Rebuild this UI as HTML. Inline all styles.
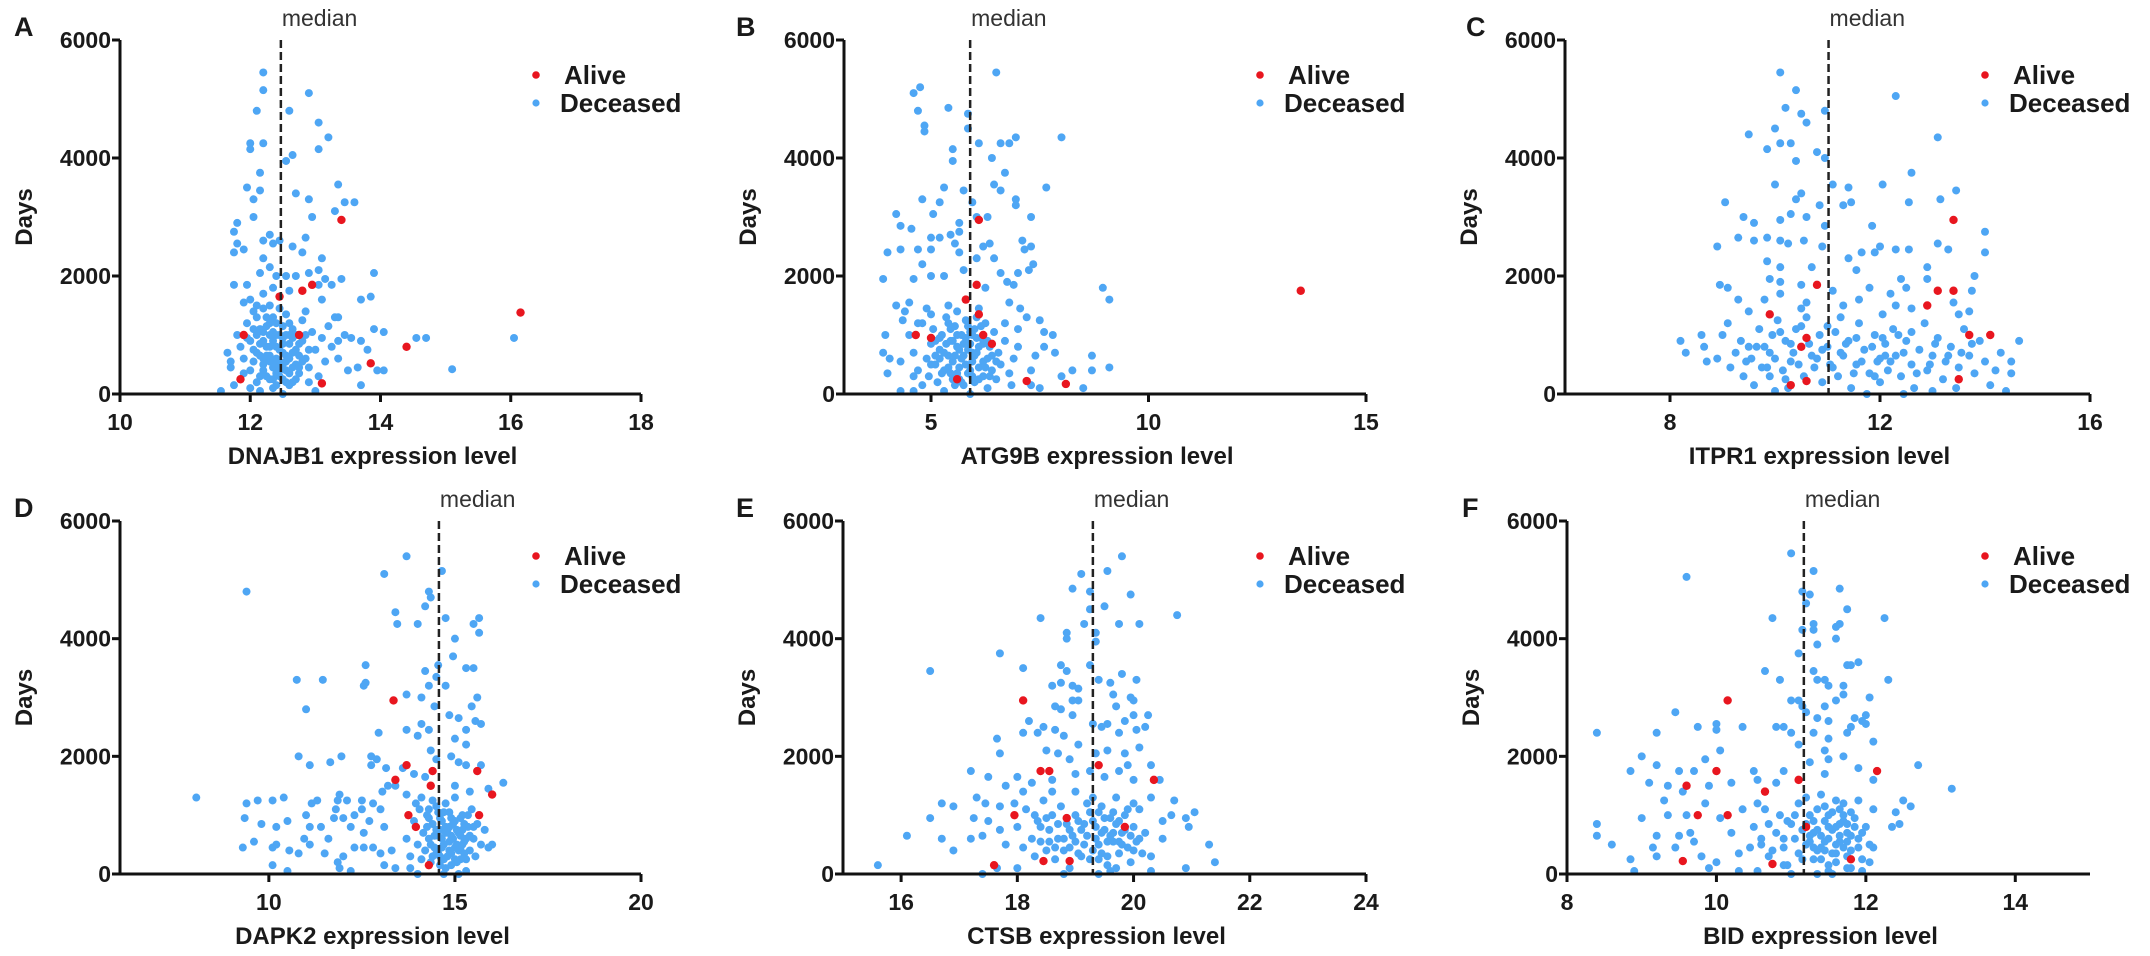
<!DOCTYPE html>
<html><head><meta charset="utf-8">
<style>
html,body{margin:0;padding:0;background:#fff;}
svg{display:block;}
text{font-family:"Liberation Sans",Arial,sans-serif;fill:#1a1a1a;}
.tick{font-weight:bold;font-size:23px;}
.title{font-weight:bold;font-size:24px;}
.leg{font-weight:bold;font-size:26px;}
.med{font-size:23px;fill:#333;}
.plab{font-weight:bold;font-size:27px;}
</style></head>
<body>
<svg id="fig" width="2150" height="956" viewBox="0 0 2150 956" xmlns="http://www.w3.org/2000/svg"></svg>
<script>
// ---- data (expression level, days) ----
const yTicks=[0,2000,4000,6000];
const genesA="DNAJB1", genesB="ATG9B", genesC="ITPR1", genesD="DAPK2", genesE="CTSB", genesF="BID";
const medianA=12.47, medianB=5.9, medianC=11.02, medianD=14.57, medianE=19.3, medianF=11.17;
const ticksA=[10,12,14,16,18], ticksB=[5,10,15], ticksC=[8,12,16], ticksD=[10,15,20], ticksE=[16,18,20,22,24], ticksF=[8,10,12,14];
const domainA=[10,18], domainB=[3,15], domainC=[6,16], domainD=[6,20], domainE=[15,24], domainF=[8,15];

const deadA=[[12.2,5450],[12.2,5150],[12.9,5100],[12.1,4800],[12.6,4800],[13.05,4600],[13.2,4350],[12.0,4250],[12.2,4250],[12.0,4150],[13.05,4150],[12.65,4050],[12.55,3950],[12.15,3750],[11.95,3500],[12.15,3450],[12.05,3300],[12.9,3300],[12.7,3400],[13.35,3550],[13.45,3250],[13.6,3250],[13.3,3100],[12.95,3000],[12.05,3000],[11.8,2900],[11.75,2750],[11.8,2550],[11.75,2400],[11.9,2450],[12.2,2600],[12.3,2700],[12.35,2550],[12.45,2600],[12.65,2500],[12.85,2650],[12.8,2400],[12.2,2300],[13.1,2300],[12.15,2050],[12.3,2150],[12.4,2000],[12.55,2000],[12.7,2000],[12.9,2050],[13.05,2100],[13.15,1950],[13.25,1850],[13.4,1950],[13.9,2050],[11.75,1850],[11.95,1850],[12.35,1800],[12.6,1750],[13.05,1850],[13.1,1600],[13.7,1600],[13.85,1650],[11.9,1550],[12.1,1500],[13.35,1300],[13.3,1300],[13.45,1000],[13.55,950],[13.7,900],[13.9,1100],[14.05,1050],[13.35,900],[14.55,950],[14.7,950],[13.8,750],[13.35,600],[13.5,400],[13.65,450],[13.95,400],[14.05,400],[13.7,150],[15.1,420],[16.05,950],[11.55,50],[11.65,700],[11.7,550],[12.0,100],
[11.8,1000],[11.85,800],[11.9,600],[11.95,1200],[12.0,400],[12.0,900],[12.05,1400],[12.1,700],[12.1,200],[12.15,1100],[12.2,500],[12.2,900],[12.25,300],[12.25,1300],[12.3,650],[12.3,1000],[12.35,100],[12.35,450],[12.4,800],[12.4,1200],[12.45,550],[12.45,300],[12.5,950],[12.5,700],[12.55,400],[12.55,1350],[12.6,600],[12.6,850],[12.65,200],[12.65,1100],[12.7,500],[12.7,750],[12.75,350],[12.8,900],[12.8,1250],[12.85,600],[12.9,450],[12.95,1050],[13.0,750],[13.05,300],[13.1,950],[13.15,550],[13.2,1150],[12.15,50],[12.3,1500],[12.45,1000],[12.6,150],[12.25,800],[12.4,350],[12.55,1000],[12.35,1050],[12.2,600],[12.5,250],[12.7,1000],[12.05,750],[11.9,350],[12.85,1400],[13.25,800],[12.0,1600],[12.65,450],[12.1,1000],[12.4,600],[12.3,250],[12.75,650],[12.2,1450],[11.7,450],[11.75,150],[12.9,200],[13.0,50],[12.5,0],[12.2,1700]];
const coreA=[[12.15,850],[12.3,550],[12.45,750],[12.6,350],[12.35,900],[12.5,500],[12.25,1150],[12.65,950],[12.4,150],[12.55,650],[12.2,400],[12.7,250],[12.05,550],[12.8,550],[12.35,1300],[12.5,1150],[12.15,300],[12.6,1200],[12.45,1450],[12.3,800],[12.75,850],[11.95,950],[12.9,750],[12.4,1000],[12.55,200],[12.1,1300],[12.65,700],[12.25,650],[12.45,400],[12.6,1000],[12.35,250],[12.5,850],[12.2,1050],[12.75,450],[12.05,1100],[12.4,500],[12.3,1200],[12.85,1000],[12.55,550],[12.15,650]];
const aliveA=[[12.45,1650],[12.95,1850],[12.8,1750],[13.4,2950],[11.9,1000],[12.75,1000],[11.85,250],[13.1,180],[13.85,520],[14.4,800],[16.15,1380]];

const deadB=[[6.5,5450],[4.75,5200],[4.6,5100],[5.4,4850],[5.85,4750],[4.7,4800],[4.85,4550],[4.85,4450],[5.85,4500],[6.1,4250],[6.6,4250],[6.8,4250],[6.95,4350],[8.0,4350],[5.5,4150],[5.5,3950],[6.4,4000],[6.7,3750],[6.45,3550],[6.6,3450],[7.65,3500],[5.3,3500],[5.2,3250],[5.05,3050],[4.2,3050],[4.3,2850],[4.55,2800],[4.8,3300],[5.75,3450],[5.95,3250],[6.05,3000],[6.3,3000],[6.95,3300],[6.95,3200],[7.3,3000],[5.0,2650],[5.0,2450],[5.2,2650],[5.45,2700],[5.55,2550],[5.65,2900],[5.65,2750],[6.2,2500],[6.35,2550],[6.05,2300],[6.45,2300],[7.1,2600],[7.15,2450],[7.3,2500],[7.35,2200],[7.0,2050],[7.25,2100],[4.0,2400],[4.3,2450],[4.7,2450],[3.9,1950],[4.6,1950],[4.8,2200],[5.0,2000],[5.3,2000],[5.75,2100],[5.65,2400],[6.6,2050],[6.25,1800],[6.75,1900],[6.9,1850],[8.95,1800],[9.1,1600],[8.7,650],[8.7,400],[9.1,450],[8.25,400],[8.5,100],[4.2,1500],[4.35,1250],[4.5,1550],[4.4,1400],[3.95,1000],[3.9,700],[4.05,600],[4.0,350],[4.3,550],[4.3,50],[4.6,50],[7.6,1050],[7.8,1000],[7.85,700],[7.6,800],[7.4,650],[7.2,1300],[7.5,1250],[7.0,1100],[7.05,1450],[6.8,1550],[7.3,400],[7.5,100],[7.3,150],[8.0,300],
[4.5,1000],[4.6,700],[4.7,400],[4.8,1200],[4.9,600],[4.95,300],[5.0,850],[5.05,1100],[5.1,500],[5.15,200],[5.2,750],[5.25,1000],[5.3,400],[5.35,1300],[5.4,650],[5.45,900],[5.5,250],[5.5,550],[5.55,1150],[5.6,800],[5.65,450],[5.7,1000],[5.75,150],[5.75,650],[5.8,1250],[5.85,350],[5.9,850],[5.95,550],[6.0,1100],[6.0,200],[6.05,700],[6.1,450],[6.15,950],[6.2,300],[6.25,1200],[6.3,600],[6.35,800],[6.4,400],[6.45,1050],[6.5,250],[6.55,700],[6.6,500],[6.7,900],[6.8,350],[6.9,600],[7.0,800],[5.3,50],[5.9,0],[6.3,100],[4.8,150],[5.6,1400],[6.1,1450],[5.4,1500],[5.0,1350],[4.7,1200],[6.7,1200],[5.2,600],[5.85,750],[6.2,850],[5.65,250],[6.5,550],[5.45,350],[6.05,1300],[5.95,1000],[5.1,900],[4.9,1450],[4.6,300],[6.85,150]];
const coreB=[[5.3,700],[5.5,900],[5.7,600],[5.9,1050],[6.1,800],[5.4,450],[5.6,350],[5.8,500],[6.0,650],[6.2,550],[5.2,950],[5.75,850],[5.95,300],[6.15,1150],[5.35,850],[5.55,650],[5.85,1150],[6.05,950],[5.45,1100],[5.65,750],[6.3,900],[5.1,650],[5.9,400],[6.4,650],[5.25,350],[5.8,950],[6.1,250],[5.6,1000],[5.0,500],[6.35,300],[5.7,200],[5.95,700],[6.25,450],[5.4,1200],[5.55,150]];
const aliveB=[[6.1,2950],[6.05,1850],[5.8,1600],[6.1,1350],[4.65,1000],[5.0,950],[6.2,1000],[7.2,220],[8.1,170],[13.5,1750],[5.6,250],[6.4,850]];

const deadC=[[10.1,5450],[10.4,5150],[12.3,5050],[10.2,4850],[10.5,4750],[10.6,4600],[10.95,4800],[10.0,4500],[9.5,4400],[13.1,4350],[10.1,4250],[10.3,4250],[10.8,4100],[9.85,4150],[10.95,4000],[10.4,3950],[12.6,3750],[10.0,3550],[10.5,3400],[11.1,3550],[11.4,3500],[12.05,3550],[13.45,3450],[13.15,3300],[12.55,3250],[11.3,3200],[11.45,3250],[10.4,3300],[10.85,3200],[9.05,3250],[10.3,3050],[10.6,3000],[9.4,3000],[9.6,2900],[10.1,2950],[10.95,2850],[11.85,2850],[14.0,2750],[9.3,2650],[9.6,2600],[9.85,2650],[10.1,2600],[10.25,2550],[10.55,2600],[10.9,2500],[8.9,2500],[11.65,2400],[12.0,2500],[12.3,2450],[12.55,2450],[13.1,2550],[13.3,2450],[14.0,2400],[11.4,2300],[11.9,2400],[9.85,2250],[10.1,2150],[10.7,2150],[11.55,2100],[12.9,2150],[12.4,1950],[12.9,1950],[13.8,2000],[8.95,1850],[9.1,1800],[9.9,1950],[10.1,1900],[10.5,1850],[11.1,1750],[11.8,1800],[12.2,1700],[12.5,1800],[13.75,1750],[9.3,1600],[9.8,1600],[10.1,1700],[10.6,1550],[11.3,1500],[11.6,1600],[12.3,1500],[12.6,1450],[13.4,1550],[13.5,1350],[13.7,1400],
[8.2,900],[8.3,700],[8.6,1000],[8.65,800],[8.7,550],[8.9,600],[9.0,1000],[9.1,1200],[9.15,450],[9.25,700],[9.35,900],[9.4,300],[9.5,1400],[9.55,600],[9.6,150],[9.7,1100],[9.75,450],[9.8,800],[9.9,300],[9.95,1000],[10.0,600],[10.05,1250],[10.15,400],[10.2,900],[10.25,100],[10.35,700],[10.4,1100],[10.45,500],[10.55,300],[10.6,1300],[10.7,650],[10.75,450],[10.85,1000],[10.9,200],[11.0,800],[11.05,500],[11.15,1050],[11.2,300],[11.3,650],[11.4,900],[11.45,100],[11.55,500],[11.6,1200],[11.7,750],[11.8,350],[11.9,1000],[11.95,550],[12.0,200],[12.1,850],[12.15,400],[12.25,1100],[12.3,650],[12.4,300],[12.5,900],[12.6,500],[12.65,100],[12.75,750],[12.85,1200],[12.9,400],[13.0,650],[13.1,950],[13.2,250],[13.25,550],[13.35,800],[13.45,100],[13.5,450],[13.6,1100],[13.7,650],[13.8,350],[13.9,900],[14.0,550],[14.1,150],[14.2,400],[14.3,700],[14.4,50],[14.5,550],[14.65,900],[14.5,350],[11.25,1300],[12.05,1350],[10.0,50],[9.5,800],[11.75,0],[12.45,0],[10.5,1450],[13.0,50],[9.9,700],[12.0,600],[11.5,350],[10.3,850]];
const coreC=[[9.65,800],[10.1,1050],[10.3,550],[10.65,850],[10.8,600],[11.1,450],[11.35,850],[11.65,550],[11.85,800],[12.05,950],[12.2,550],[12.45,700],[12.7,350],[13.05,850],[13.3,650],[9.85,450],[10.5,1150],[11.25,700],[11.9,300],[12.35,1000],[12.95,500],[13.55,700],[10.2,250],[11.0,1150],[12.6,1050],[9.45,550],[13.75,850],[10.9,750],[12.1,650],[11.55,950]];
const aliveC=[[9.9,1350],[10.8,1850],[10.5,800],[10.6,950],[10.3,150],[10.6,220],[12.9,1500],[13.1,1750],[13.4,1750],[13.4,2950],[13.7,1000],[14.1,1000],[13.5,250]];

const deadD=[[13.7,5400],[13.1,5100],[14.65,5150],[14.3,4800],[14.35,4700],[9.4,4800],[14.2,4550],[13.4,4450],[13.45,4250],[14.0,4250],[14.75,4350],[15.5,4250],[15.65,4350],[15.65,4100],[15.0,4000],[14.95,3700],[15.3,3500],[15.5,3500],[14.55,3550],[14.2,3450],[14.5,3350],[14.3,3200],[14.75,3200],[12.6,3550],[12.6,3250],[12.55,3200],[10.75,3300],[11.45,3300],[11.0,2800],[13.7,3050],[14.1,3000],[14.45,2850],[15.45,2850],[15.6,3000],[14.85,2700],[15.1,2650],[15.55,2600],[15.7,2550],[14.1,2550],[14.3,2450],[14.0,2350],[15.3,2450],[15.0,2300],[14.9,2000],[15.3,2200],[13.7,2450],[12.95,2400],[14.35,2100],[14.5,1950],[15.1,1900],[15.3,1850],[15.7,1850],[10.8,2000],[11.65,1900],[11.95,2000],[11.1,1850],[12.75,2000],[12.9,1950],[12.75,1850],[13.15,1800],[13.6,1800],[13.9,1700],[14.2,1650],[16.3,1550],[15.9,1450],[15.4,1400],[15.0,1500],[13.2,1500],[13.4,1500],[13.05,1400],[13.7,1350],[14.1,1300],[12.5,1250],[12.1,1250],[11.9,1350],[11.85,1250],[11.3,1250],[11.15,1200],[11.8,1100],[12.0,950],[11.75,950],[12.3,1000],[12.5,1100],[12.8,1200],[13.0,1100],[9.4,1200],[9.7,1250],[10.1,1250],[10.4,1300],[8.05,1300],[9.35,950],[9.8,850],[10.2,800],[10.5,900],[11.0,1000],[11.1,800],[11.4,800],[11.6,600],[12.2,800],[12.55,700],[12.7,900],[13.1,800],[9.3,450],[9.6,550],[10.1,450],[10.2,500],[10.55,400],[10.8,350],[10.95,600],[11.1,500],[11.5,350],[12.0,300],[12.3,450],[12.55,450],[12.8,450],[13.0,350],[13.3,400],[10.1,150],[10.5,50],[11.85,200],[11.9,100],[12.2,50],[13.1,150],[13.4,100],[13.8,100],[14.0,0],
[13.7,600],[13.8,300],[13.9,900],[14.0,500],[14.05,1100],[14.1,250],[14.15,700],[14.2,400],[14.25,1000],[14.3,600],[14.35,200],[14.4,850],[14.45,450],[14.5,1150],[14.55,650],[14.6,300],[14.65,900],[14.7,500],[14.75,100],[14.8,750],[14.85,1050],[14.9,350],[14.95,600],[15.0,900],[15.05,200],[15.1,700],[15.15,450],[15.2,1000],[15.25,550],[15.3,250],[15.35,800],[15.4,400],[15.45,1100],[15.5,600],[15.55,300],[15.6,850],[15.7,500],[15.8,750],[15.9,450],[16.0,500],[14.4,1250],[15.0,1300],[14.7,0],[15.3,50],[15.1,0],[14.6,750],[14.85,550],[14.3,950],[15.25,850],[14.9,150],[14.5,350],[15.15,650],[14.75,1200],[13.95,1200],[14.65,450]];
const coreD=[[14.45,650],[14.6,950],[14.75,800],[14.9,650],[15.05,500],[15.2,750],[14.35,500],[14.55,350],[14.7,1050],[14.85,400],[15.0,250],[15.15,950],[15.3,600],[14.25,800],[14.5,750],[14.65,600],[14.8,300],[14.95,850],[15.1,400],[15.25,350],[15.4,650],[14.4,300],[14.6,150],[14.75,700],[14.9,950],[15.05,750],[15.2,500],[14.3,1100],[15.35,1000],[15.5,800],[14.55,1050],[14.7,250],[15.0,450],[15.15,250],[14.85,800]];
const aliveD=[[13.35,2950],[13.7,1850],[14.4,1750],[15.6,1750],[13.4,1600],[14.35,1500],[16.0,1350],[13.75,1000],[15.65,1000],[13.95,800],[14.3,150]];

const deadE=[[19.8,5400],[19.55,5150],[19.1,5100],[18.95,4850],[19.25,4800],[19.95,4750],[19.5,4550],[19.25,4500],[18.4,4350],[19.15,4250],[19.75,4250],[20.1,4250],[20.75,4400],[18.85,4100],[18.85,4000],[19.35,4100],[19.35,3950],[17.7,3750],[18.1,3500],[16.5,3450],[18.75,3550],[18.85,3450],[19.25,3550],[19.8,3400],[19.4,3300],[19.6,3250],[20.05,3300],[18.6,3200],[18.75,3250],[18.95,3200],[19.05,3150],[19.65,3050],[19.95,3000],[20.0,2950],[18.95,2950],[19.05,2950],[18.65,2850],[18.75,2800],[19.7,2850],[18.95,2700],[18.2,2600],[18.45,2500],[18.65,2450],[19.3,2550],[19.45,2500],[19.55,2550],[19.85,2600],[20.0,2700],[20.25,2700],[18.1,2400],[18.35,2400],[18.8,2350],[19.75,2400],[20.05,2450],[20.2,2500],[17.65,2300],[17.7,2050],[18.5,2100],[18.7,2050],[19.05,2200],[19.35,2050],[19.55,2100],[19.85,2050],[20.1,2150],[18.9,1950],[19.9,1850],[20.3,1850],[17.2,1750],[17.5,1650],[17.8,1500],[18.0,1650],[18.25,1550],[18.6,1600],[19.0,1700],[19.25,1750],[19.5,1650],[19.75,1750],[20.0,1600],[20.45,1600],[17.3,1300],[17.45,1200],[16.7,1200],[16.9,1150],[16.5,950],[16.1,650],[16.7,600],[16.9,400],[17.2,600],[17.4,650],[17.25,950],[17.5,900],[17.7,750],[17.8,500],[17.95,1200],[18.1,1400],[17.7,1150],[17.4,0],[17.65,100],[18.0,100],[20.7,1250],[21.05,1050],[20.9,950],[20.95,800],[21.3,500],[21.4,200],[20.9,100],[20.5,600],[20.3,300],[20.3,1300],[20.5,900],[20.65,1000],[20.3,50],[15.6,150],
[18.0,800],[18.1,450],[18.15,1100],[18.25,600],[18.3,300],[18.35,900],[18.4,550],[18.45,1250],[18.5,400],[18.55,750],[18.6,1000],[18.65,250],[18.7,600],[18.75,1150],[18.8,400],[18.85,850],[18.9,100],[18.95,650],[19.0,1000],[19.05,350],[19.1,750],[19.15,500],[19.2,1200],[19.25,250],[19.3,900],[19.35,600],[19.4,1050],[19.45,350],[19.5,750],[19.55,150],[19.6,950],[19.65,550],[19.7,1300],[19.75,350],[19.8,700],[19.85,1000],[19.9,450],[19.95,200],[20.0,800],[20.05,550],[20.1,1100],[20.15,350],[20.2,700],[19.4,0],[19.6,50],[18.8,0],[19.0,1400],[19.3,1300],[18.6,1400],[19.55,550],[19.15,850],[18.9,450],[19.75,900],[19.45,700],[20.0,1200],[18.3,1000],[19.7,100]];
const coreE=[[19.35,800],[19.5,950],[19.65,700],[19.8,500],[19.95,650],[19.4,500],[19.55,300],[19.7,850],[19.85,750],[20.0,400],[19.2,650],[19.05,900],[18.9,750],[18.7,850],[18.55,550],[18.4,800],[19.3,400],[19.6,650],[19.45,1150],[19.9,1100],[18.8,600],[19.1,300],[19.75,550],[18.5,950],[19.25,1050],[20.1,600],[18.65,450],[19.4,250],[19.0,550],[19.65,1050]];
const aliveE=[[18.1,2950],[18.4,1750],[18.55,1750],[19.4,1850],[20.35,1600],[17.95,1000],[18.85,950],[19.85,800],[17.6,150],[18.45,220],[18.9,220]];

const deadF=[[11.0,5450],[9.6,5050],[11.3,5150],[11.15,4800],[11.65,4850],[11.25,4750],[11.2,4600],[11.75,4500],[10.75,4350],[12.25,4350],[11.15,4150],[11.3,4250],[11.3,4150],[11.35,3900],[11.65,4250],[11.6,4200],[11.6,4000],[11.1,3750],[10.65,3450],[10.85,3300],[11.3,3450],[11.35,3300],[11.45,3300],[11.5,3200],[11.7,3200],[11.75,3550],[11.8,3550],[11.9,3600],[12.3,3300],[11.7,3050],[11.6,2950],[11.45,2850],[11.15,2850],[11.0,2950],[11.1,2950],[12.05,3000],[12.0,2700],[11.95,2600],[11.85,2650],[11.8,2500],[11.5,2600],[11.35,2650],[11.2,2750],[9.45,2750],[9.75,2500],[10.35,2500],[10.8,2500],[10.9,2500],[10.0,2550],[10.0,2450],[11.0,2400],[11.3,2400],[11.5,2300],[11.75,2400],[12.0,2550],[8.4,2400],[9.2,2400],[10.05,2100],[11.1,2200],[11.45,2100],[11.7,2000],[12.1,2250],[9.0,2000],[9.85,1950],[11.25,1900],[11.5,1950],[11.9,1800],[12.7,1850],[8.85,1750],[9.2,1850],[9.5,1750],[9.7,1750],[10.5,1750],[10.9,1750],[11.45,1700],[12.1,1600],[13.15,1450],[9.1,1550],[9.35,1500],[9.55,1400],[9.9,1500],[10.2,1550],[10.55,1600],[10.8,1550],[12.5,1250],[12.4,1050],[12.45,850],[12.35,800],[12.6,1150],[8.4,850],[8.4,650],[8.6,500],[8.85,250],[8.9,50],[9.0,950],[9.15,450],[9.2,300],[9.35,1000],[9.5,650],[9.8,300],[9.9,100],[10.0,200],[10.2,700],[10.3,50],[10.55,50],[10.75,400],[10.9,150],[11.5,50],[11.75,100],[11.95,50],[12.05,200],[12.1,450],[9.3,1250],[9.6,1000],[9.85,1200],[10.05,950],[10.35,1100],[10.55,1200],[10.7,850],[10.95,900],[10.45,450],[10.6,600],[10.3,350],[9.65,700],[9.45,450],[9.2,650],[9.7,550],
[10.5,800],[10.6,500],[10.65,1100],[10.7,300],[10.8,700],[10.85,1000],[10.9,450],[10.95,150],[11.0,850],[11.05,600],[11.1,1200],[11.1,350],[11.15,750],[11.2,500],[11.25,1000],[11.3,250],[11.3,700],[11.35,1100],[11.4,450],[11.45,900],[11.5,150],[11.5,600],[11.55,1050],[11.6,350],[11.6,800],[11.65,550],[11.7,1200],[11.75,700],[11.8,400],[11.85,950],[11.9,600],[11.95,250],[12.0,800],[12.05,500],[12.1,1100],[11.35,0],[11.55,0],[11.2,1300],[11.4,1350],[11.7,1000],[11.8,100],[11.0,0],[11.25,650],[11.45,400],[11.65,850],[11.9,1250],[11.15,250],[11.75,550]];
const coreF=[[11.3,900],[11.4,650],[11.5,1000],[11.55,750],[11.6,500],[11.7,900],[11.8,650],[11.35,400],[11.45,1150],[11.65,1100],[11.75,300],[11.85,800],[11.25,550],[11.5,800],[11.6,1250],[11.7,450],[11.4,250],[11.55,350],[11.8,1050],[11.95,700],[11.2,850],[11.35,750],[11.65,650],[11.9,450],[11.05,1000],[11.45,550],[11.75,850],[10.9,600],[11.6,200],[11.3,450]];
const aliveF=[[10.15,2950],[10.0,1750],[11.1,1600],[12.15,1750],[9.75,1000],[10.15,1000],[11.2,800],[9.55,220],[10.75,170],[11.8,250],[10.65,1400],[9.6,1500]];

// ---- layout (pixels) ----
const panels=[
 {id:"a",letter:"A",gene:genesA,med:medianA,ticks:ticksA,dom:domainA,dead:deadA.concat(coreA),alive:aliveA,x0:120,x1:641,yT:40,yB:394,letX:14,legX:536},
 {id:"b",letter:"B",gene:genesB,med:medianB,ticks:ticksB,dom:domainB,dead:deadB.concat(coreB),alive:aliveB,x0:844,x1:1366,yT:40,yB:394,letX:736,legX:1260},
 {id:"c",letter:"C",gene:genesC,med:medianC,ticks:ticksC,dom:domainC,dead:deadC.concat(coreC),alive:aliveC,x0:1565,x1:2090,yT:40,yB:394,letX:1466,legX:1985},
 {id:"d",letter:"D",gene:genesD,med:medianD,ticks:ticksD,dom:domainD,dead:deadD.concat(coreD),alive:aliveD,x0:120,x1:641,yT:521,yB:874,letX:14,legX:536},
 {id:"e",letter:"E",gene:genesE,med:medianE,ticks:ticksE,dom:domainE,dead:deadE.concat(coreE),alive:aliveE,x0:843,x1:1366,yT:521,yB:874,letX:736,legX:1260},
 {id:"f",letter:"F",gene:genesF,med:medianF,ticks:ticksF,dom:domainF,dead:deadF.concat(coreF),alive:aliveF,x0:1567,x1:2090,yT:521,yB:874,letX:1462,legX:1985}
];
const NS="http://www.w3.org/2000/svg";
const svg=document.getElementById("fig");
function mk(tag,attrs,parent,txt){const e=document.createElementNS(NS,tag);for(const k in attrs)e.setAttribute(k,attrs[k]);if(txt!==undefined)e.textContent=txt;parent.appendChild(e);return e;}

panels.forEach(p=>{
  const g=mk("g",{},svg);
  
  
  const sx=v=>p.x0+(v-p.dom[0])/(p.dom[1]-p.dom[0])*(p.x1-p.x0);
  const sy=v=>p.yB-(v/6000)*(p.yB-p.yT);
  const L=mk("text",{x:p.letX,y:p.yT-4,class:"plab"},g,p.letter);
  
  
  const gd=mk("g",{fill:"#4ea6f4"},g);
  
  
  p.dead.forEach(d=>{
    const c=mk("circle",{cx:sx(d[0]),cy:sy(d[1]),r:4},gd);
    
    
  });
  const ga=mk("g",{fill:"#e8161f"},g);
  
  
  p.alive.forEach(d=>{
    const c=mk("circle",{cx:sx(d[0]),cy:sy(d[1]),r:4.2},ga);
    
    
  });
  const mx=sx(p.med);
  const ml=mk("line",{x1:mx,x2:mx,y1:p.yT,y2:p.yB,stroke:"#222","stroke-width":2.5,"stroke-dasharray":"8,4"},g);
  
  
  const mt=mk("text",{x:mx+1,y:p.yT-14,class:"med"},g,"median");
  
  
  const ax=mk("path",{d:`M${p.x0},${p.yT} V${p.yB} H${p.x1}`,fill:"none",stroke:"#111","stroke-width":3},g);
  
  
  yTicks.forEach(t=>{
    const y=sy(t);
    const tl=mk("line",{x1:p.x0-8,x2:p.x0,y1:y,y2:y,stroke:"#111","stroke-width":3},g);
    
    
    const tt=mk("text",{x:p.x0-9,y:y+8,"text-anchor":"end",class:"tick"},g,String(t));
    
    
  });
  p.ticks.forEach(t=>{
    const x=sx(t);
    const tl=mk("line",{x1:x,x2:x,y1:p.yB,y2:p.yB+8,stroke:"#111","stroke-width":3},g);
    
    
    const tt=mk("text",{x:x,y:p.yB+36,"text-anchor":"middle",class:"tick"},g,String(t));
    
    
  });
  const xt=mk("text",{x:(p.x0+p.x1)/2-8,y:p.yB+70,"text-anchor":"middle",class:"title"},g,p.gene+" expression level");
  
  
  const yc=(p.yT+p.yB)/2;
  const yl=p.x0-88;
  const yt=mk("text",{x:yl,y:yc,"text-anchor":"middle",class:"title",transform:`rotate(-90 ${yl} ${yc})`},g,"Days");
  
  
  const lg=mk("g",{},g);
  
  
  const ly=p.yT+35;
  const e1=mk("g",{},lg);
  
  
  mk("circle",{cx:p.legX,cy:ly,r:3.8,fill:"#e8161f"},e1);
  mk("text",{x:p.legX+28,y:ly+9,class:"leg"},e1,"Alive");
  const e2=mk("g",{},lg);
  
  
  mk("circle",{cx:p.legX,cy:ly+28,r:3.6,fill:"#4ea6f4"},e2);
  mk("text",{x:p.legX+24,y:ly+37,class:"leg"},e2,"Deceased");
});
</script>
</body></html>
